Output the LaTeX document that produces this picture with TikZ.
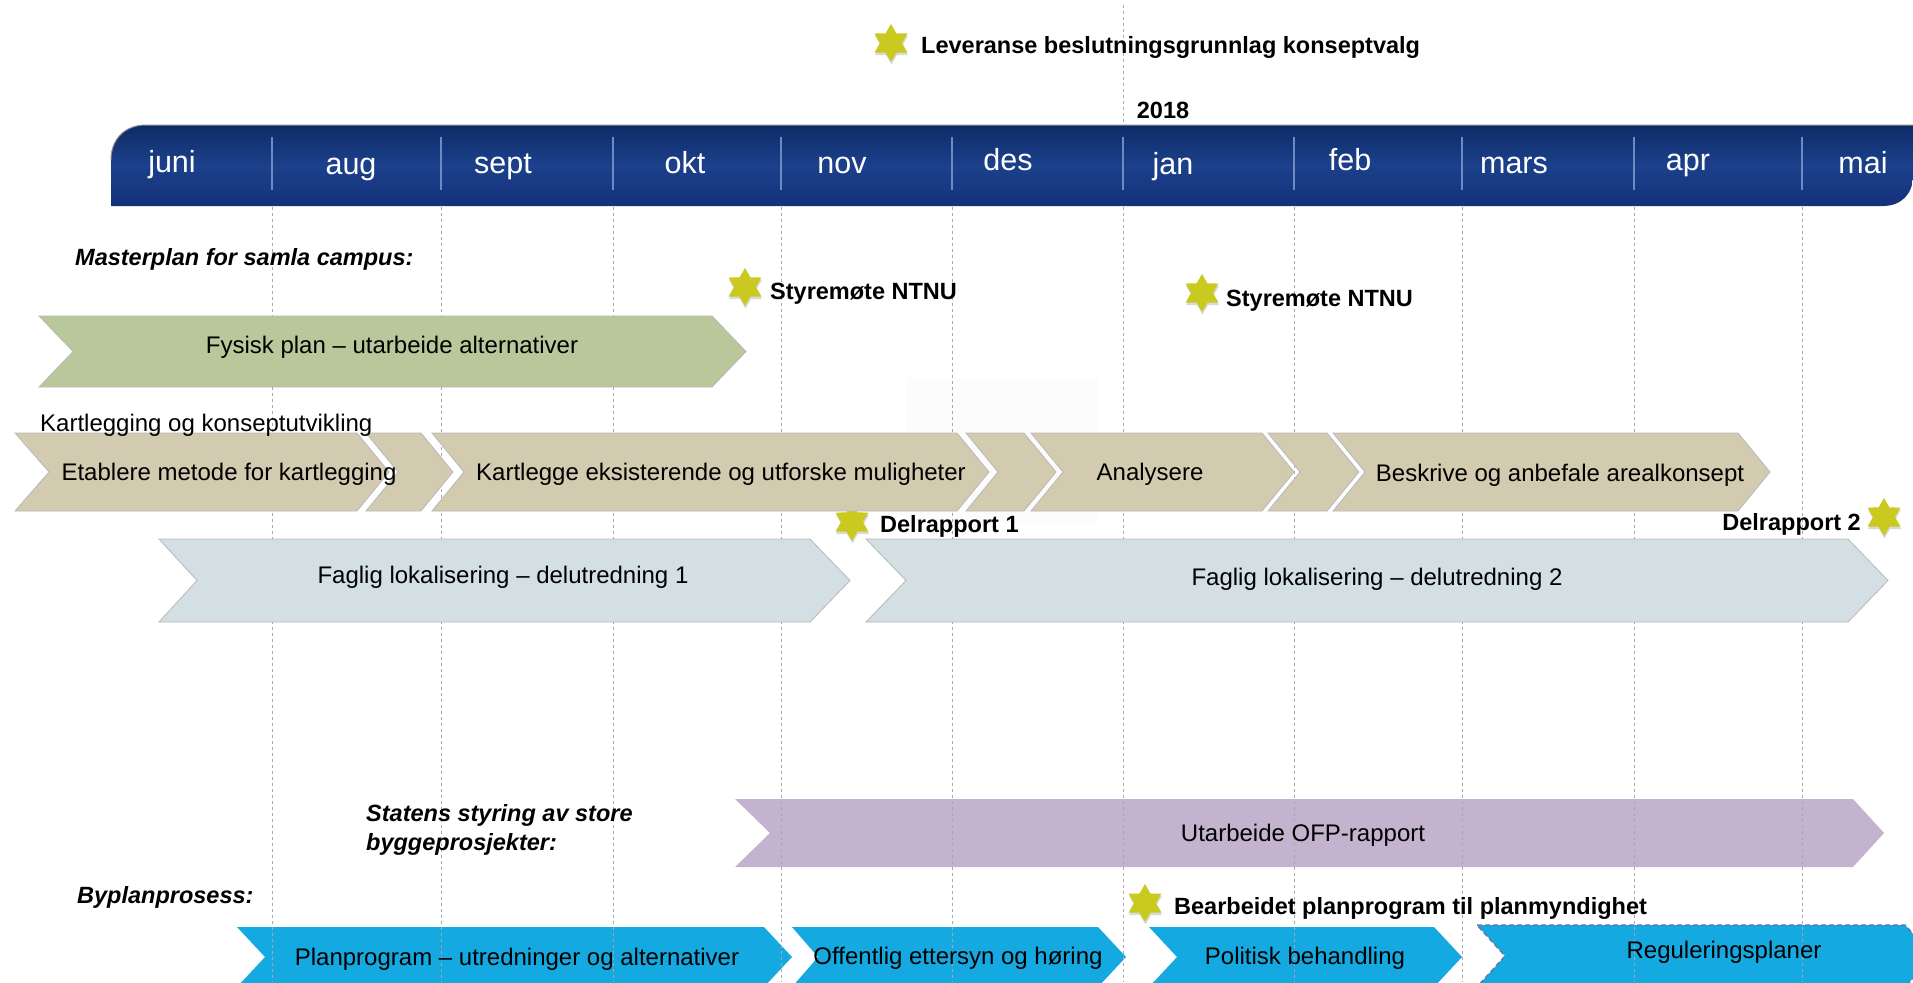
\documentclass[tikz,border=0pt]{standalone}
\usepackage{fontspec}
\setmainfont{Liberation Sans}
\usetikzlibrary{shapes.geometric,shadows}
\definecolor{barTop}{HTML}{0D2C66}
\definecolor{barMid}{HTML}{1C408B}
\definecolor{barBot}{HTML}{14317A}
\definecolor{sepcol}{HTML}{6F8AC0}
\definecolor{gridcol}{HTML}{A8A8A8}
\definecolor{greencol}{HTML}{B8C89B}
\definecolor{tancol}{HTML}{D3CBB0}
\definecolor{bgcol}{HTML}{D3DFE3}
\definecolor{purplecol}{HTML}{C3B3CF}
\definecolor{bluecol}{HTML}{14A9E0}
\definecolor{starcol}{HTML}{C9C91F}
\definecolor{dashcol}{HTML}{5C7CB0}
\definecolor{faintcol}{HTML}{FCFCFC}
\newcommand\chevshape[7]{\path[#1] (#2,#4) -- (#3,#4) -- ({#3+#6},{(#4+#5)/2}) -- (#3,#5) -- (#2,#5) -- ({#2+#7},{(#4+#5)/2}) -- cycle;}
\tikzset{
  lbl/.style={inner sep=0pt, anchor=base, font=\fontsize{24}{28}\selectfont},
  blbl/.style={inner sep=0pt, anchor=base west, font=\fontsize{23.5}{29}\selectfont\bfseries},
  bilbl/.style={inner sep=0pt, anchor=base west, font=\fontsize{23.5}{29}\selectfont\bfseries\itshape},
  month/.style={inner sep=0pt, anchor=base, text=white, font=\fontsize{30.5}{34}\selectfont},
  gridline/.style={draw=gridcol, line width=0.9pt, dash pattern=on 3pt off 3pt},
  sepline/.style={draw=sepcol, line width=1.6pt},
  milestone/.style={star, star points=6, star point ratio=1.73, minimum size=38pt, inner sep=0pt, fill=starcol,
    drop shadow={shadow xshift=0.5pt, shadow yshift=-2.5pt, opacity=0.3}},
  uppershape/.style={draw=black!28, line width=0.8pt},
}
\begin{document}
\begin{tikzpicture}[x=1pt,y=-1pt]
\useasboundingbox (0,0) rectangle (1913,982);
% faint background patch
\fill[faintcol] (907,378) rectangle (1098,523);
% lower shapes (grid lines show over them)
\chevshape{fill=purplecol}{735}{1853}{799}{867}{31}{35}
\chevshape{fill=bluecol}{237}{764}{927}{987}{28}{28}
\chevshape{fill=bluecol}{792}{1098}{927}{987}{28}{26}
\chevshape{fill=bluecol}{1149}{1434}{927}{987}{28}{28}
\chevshape{fill=bluecol, draw=dashcol, line width=1.5pt, dash pattern=on 5pt off 3pt}{1477}{1905}{925}{987}{28}{28}
% grid lines
\foreach \gx in {272,441,613,781,952,1123,1294,1462,1634,1802}
  \draw[gridline] (\gx,207) -- (\gx,982);
\draw[gridline] (1123,5) -- (1123,125);
% timeline bar
\path[top color=barTop, bottom color=barBot, middle color=barMid]
  (111,206) -- (111,160) .. controls (111,139) and (125,125) .. (146,125) -- (1913,125) -- (1913,176)
  .. controls (1913,194) and (1901,206) .. (1883,206) -- cycle;
\draw[black!45, line width=1pt] (111,160) .. controls (111,139) and (125,125) .. (146,125) -- (1913,125);
\foreach \gx in {272,441,613,781,952,1123,1294,1462,1634,1802}
  \draw[sepline] (\gx,137) -- (\gx,190);
\node[month] (m1) at (172,172) {juni};
\node[month] (m2) at (351,174) {aug};
\node[month] (m3) at (503,173) {sept};
\node[month] (m4) at (685,173) {okt};
\node[month] (m5) at (842,173) {nov};
\node[month] (m6) at (1008,170) {des};
\node[month] (m7) at (1173,174) {jan};
\node[month] (m8) at (1350,170) {feb};
\node[month] (m9) at (1514,173) {mars};
\node[month] (m10) at (1688,170) {apr};
\node[month] (m11) at (1863,173) {mai};
% star behind tan row
\node[milestone] (s4) at (852,522) {};
% upper shapes
\chevshape{fill=greencol, uppershape}{39}{712}{316}{387}{34}{34}
\chevshape{fill=tancol, uppershape}{15}{357}{433}{511}{32}{34}
\chevshape{fill=tancol, uppershape}{366}{421}{433}{511}{32}{32}
\chevshape{fill=tancol, uppershape}{432}{957}{433}{511}{32}{32}
\chevshape{fill=tancol, uppershape}{966}{1024}{433}{511}{32}{32}
\chevshape{fill=tancol, uppershape}{1031}{1262}{433}{511}{32}{32}
\chevshape{fill=tancol, uppershape}{1268}{1327}{433}{511}{32}{32}
\chevshape{fill=tancol, uppershape}{1333}{1738}{433}{511}{32}{32}
\chevshape{fill=bgcol, uppershape}{159}{810}{539}{622}{40}{38}
\chevshape{fill=bgcol, uppershape}{866}{1848}{539}{622}{40}{40}
% milestones
\node[milestone] (s1) at (891,43) {};
\node[milestone] (s2) at (745,287) {};
\node[milestone] (s3) at (1202,293) {};
\node[milestone] (s5) at (1884,517) {};
\node[milestone] (s6) at (1145,903) {};
% bold labels
\node[blbl] (lev) at (921,54) {Leveranse beslutningsgrunnlag konseptvalg};
\node[blbl, anchor=base] (yr) at (1163,118) {2018};
\node[bilbl] (mp) at (75,265) {Masterplan for samla campus:};
\node[blbl] (sty1) at (770,299) {Styremøte NTNU};
\node[blbl] (sty2) at (1226,306) {Styremøte NTNU};
\node[blbl] (dr1) at (880,532) {Delrapport 1};
\node[blbl, anchor=base east] (dr2) at (1861,530) {Delrapport 2};
\node[bilbl, anchor=north west, align=left] (st) at (366,804) {Statens styring av store\\byggeprosjekter:};
\node[bilbl] (bp) at (77,903) {Byplanprosess:};
\node[blbl] (bear) at (1174,914) {Bearbeidet planprogram til planmyndighet};
% shape labels
\node[lbl] (fys) at (392,353.5) {Fysisk plan – utarbeide alternativer};
\node[lbl, anchor=base west] (kk) at (40,431) {Kartlegging og konseptutvikling};
\node[lbl] (etab) at (229,480) {Etablere metode for kartlegging};
\node[lbl] (kart) at (721,480) {Kartlegge eksisterende og utforske muligheter};
\node[lbl] (anal) at (1150,480) {Analysere};
\node[lbl] (besk) at (1560,481) {Beskrive og anbefale arealkonsept};
\node[lbl] (fag1) at (503,583) {Faglig lokalisering – delutredning 1};
\node[lbl] (fag2) at (1377,585) {Faglig lokalisering – delutredning 2};
\node[lbl] (ofp) at (1303,841) {Utarbeide OFP-rapport};
\node[lbl] (plan) at (517,965) {Planprogram – utredninger og alternativer};
\node[lbl] (off) at (958,964) {Offentlig ettersyn og høring};
\node[lbl] (pol) at (1305,964) {Politisk behandling};
\node[lbl] (reg) at (1724,958) {Reguleringsplaner};
\end{tikzpicture}
\end{document}
